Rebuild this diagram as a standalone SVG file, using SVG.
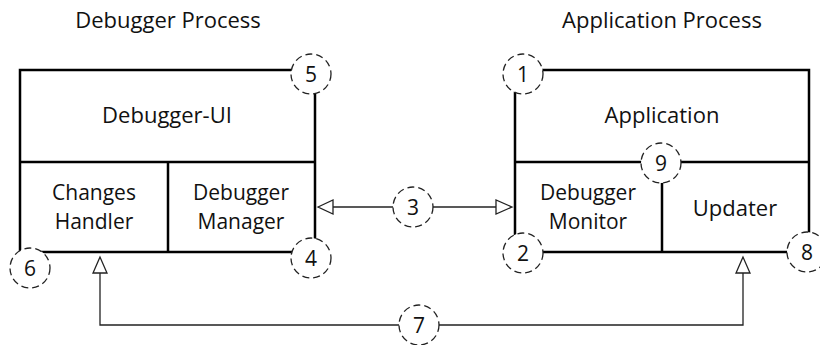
<svg xmlns="http://www.w3.org/2000/svg" width="820" height="345" viewBox="0 0 820 345">
<style>
.box{stroke:#000;stroke-width:2.5;fill:none;stroke-linecap:square}
.con{stroke:#222;stroke-width:1.3;fill:none}
.head{stroke:#222;stroke-width:1.3;fill:#fff}
.num{fill:#fff;stroke:#222;stroke-width:1.3;stroke-dasharray:7,4}
.t{font-family:"Open Sans","Noto Sans",sans-serif;font-size:22px;fill:#111;text-anchor:middle}
.t2{font-family:"Open Sans","Noto Sans",sans-serif;font-size:21px;fill:#111;text-anchor:middle}
.n{font-family:"Open Sans","Noto Sans",sans-serif;font-size:21px;fill:#111;text-anchor:middle}
</style>
<rect width="820" height="345" fill="#fff"/>
<text class="t" x="168" y="28">Debugger Process</text>
<text class="t" x="662" y="28">Application Process</text>
<g id="connectors">
<line class="con" x1="333" y1="207" x2="496" y2="207"/>
<polygon class="head" points="318,207 333,200 333,214"/>
<polygon class="head" points="512,207 496,200 496,214"/>
<polyline class="con" points="100,273 100,325 743,325 743,273"/>
<polygon class="head" points="100,257 93,273 107,273"/>
<polygon class="head" points="743,257 736,273 750,273"/>
</g>
<g id="debugger-process">
<path class="box" d="M20,70 H315 V252 H20 Z M20,162 H315 M168,162 V252"/>
</g>
<g id="debugger-ui"><text class="t" x="167" y="123">Debugger-UI</text></g>
<g id="changes-handler"><text class="t2" x="94" y="200">Changes</text><text class="t2" x="94" y="229">Handler</text></g>
<g id="debugger-manager"><text class="t2" x="241" y="200">Debugger</text><text class="t2" x="241" y="229">Manager</text></g>
<g id="application-process">
<path class="box" d="M515,70 H809 V252 H515 Z M515,162 H809 M662,162 V252"/>
</g>
<g id="application"><text class="t" x="662" y="123">Application</text></g>
<g id="debugger-monitor"><text class="t2" x="588" y="200">Debugger</text><text class="t2" x="588" y="229">Monitor</text></g>
<g id="updater"><text class="t" x="735" y="216">Updater</text></g>
<g id="markers">
<g id="m1"><circle class="num" cx="523" cy="74" r="20"/><text class="n" x="523" y="82">1</text></g>
<g id="m2"><circle class="num" cx="523" cy="253" r="20"/><text class="n" x="523" y="261">2</text></g>
<g id="m3"><circle class="num" cx="413" cy="207" r="20"/><text class="n" x="413" y="215">3</text></g>
<g id="m4"><circle class="num" cx="311" cy="258" r="20"/><text class="n" x="311" y="266">4</text></g>
<g id="m5"><circle class="num" cx="311" cy="74" r="20"/><text class="n" x="311" y="82">5</text></g>
<g id="m6"><circle class="num" cx="30" cy="268" r="20"/><text class="n" x="30" y="276">6</text></g>
<g id="m7"><circle class="num" cx="419" cy="325" r="20"/><text class="n" x="419" y="333">7</text></g>
<g id="m8"><circle class="num" cx="807" cy="252" r="20"/><text class="n" x="807" y="260">8</text></g>
<g id="m9"><circle class="num" cx="661" cy="163" r="20"/><text class="n" x="661" y="171">9</text></g>
</g>
</svg>
